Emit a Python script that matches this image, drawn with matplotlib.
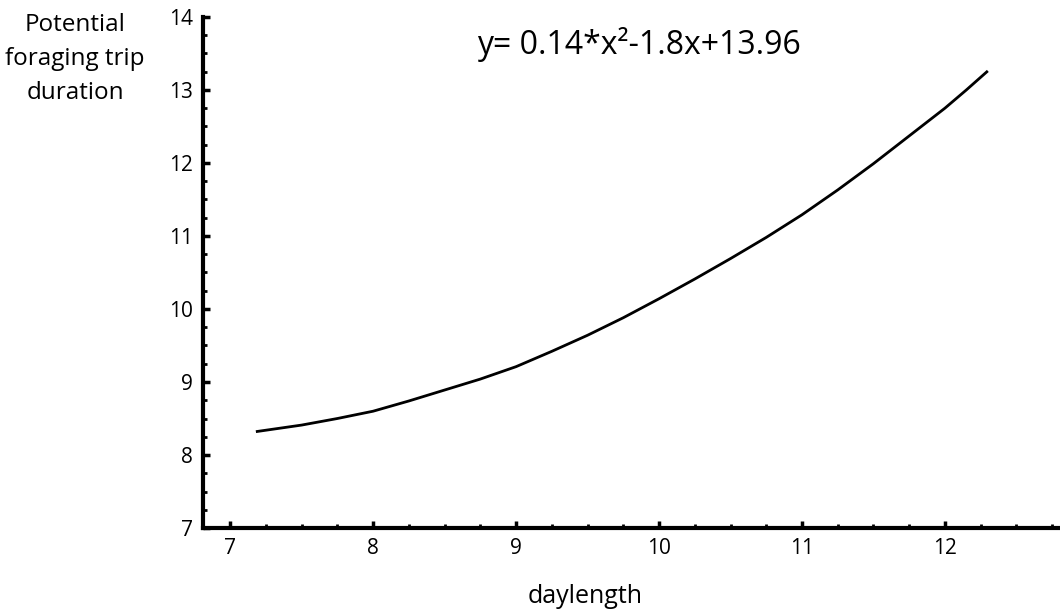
import matplotlib
matplotlib.use("Agg")
import matplotlib.pyplot as plt
from matplotlib.ticker import MultipleLocator

# values
daylength = [7.18, 7.5, 7.75, 8.0, 8.25, 8.5, 8.75, 9.0, 9.25, 9.5, 9.75, 10.0,
             10.25, 10.5, 10.75, 11.0, 11.25, 11.5, 11.75, 12.0, 12.15, 12.3]
trip_duration = [8.32, 8.41, 8.50, 8.60, 8.74, 8.89, 9.04, 9.21, 9.42, 9.64, 9.88, 10.14,
                 10.41, 10.69, 10.98, 11.29, 11.63, 11.99, 12.37, 12.75, 13.00, 13.26]

x_ticks = [7, 8, 9, 10, 11, 12]
y_ticks = [7, 8, 9, 10, 11, 12, 13, 14]
equation = "y= 0.14*x²-1.8x+13.96"

plt.rcParams["font.family"] = ["Open Sans", "DejaVu Sans"]

fig = plt.figure(figsize=(10.6, 6.14), dpi=100)
ax = fig.add_axes([0.1915, 0.140, 0.8065, 0.8325])

ax.plot(daylength, trip_duration, color="black", linewidth=2.0,
        solid_joinstyle="round", solid_capstyle="butt")

ax.set_xlim(6.81, 12.79)
ax.set_ylim(7, 14)
ax.set_xticks(x_ticks)
ax.set_yticks(y_ticks)
ax.xaxis.set_minor_locator(MultipleLocator(0.25))
ax.yaxis.set_minor_locator(MultipleLocator(0.25))

for side in ("top", "right"):
    ax.spines[side].set_visible(False)
for side in ("left", "bottom"):
    ax.spines[side].set_linewidth(3)

ax.tick_params(which="major", direction="in", length=5, width=2.5, labelsize=15, pad=7)
ax.tick_params(which="minor", direction="in", length=3, width=2)

ax.text(0.51, 0.945, equation, transform=ax.transAxes, fontsize=23, ha="center", va="center")

fig.text(0.0708, 0.904, "Potential\nforaging trip\nduration", ha="center", va="center",
         fontsize=17.5, linespacing=1.55)
fig.text(0.552, 0.028, "daylength", ha="center", va="center", fontsize=18)

fig.savefig("out.png", dpi=100)
